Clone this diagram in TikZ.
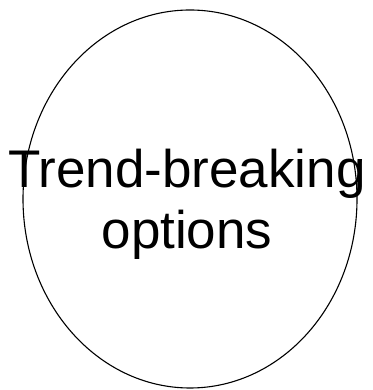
\documentclass[tikz,border=0pt]{standalone}
\usepackage{fontspec}
\setmainfont{Liberation Sans}
\usetikzlibrary{shapes.geometric}

\begin{document}
\begin{tikzpicture}[x=1pt, y=1pt]
  \tikzset{
      bubble/.style={ellipse, draw, line width=1.1pt, minimum width=334pt, minimum height=378pt, inner sep=0pt},
      caption/.style={align=center, font=\fontsize{53}{61}\selectfont, inner sep=0pt}
  }
  \useasboundingbox (0,0) rectangle (372,390);

  \node[bubble] (opt) at (190,191) {};
  \node[caption] (lbl) at ([xshift=-3pt, yshift=-5pt]opt.center) {Trend-breaking\\options};
\end{tikzpicture}
\end{document}
